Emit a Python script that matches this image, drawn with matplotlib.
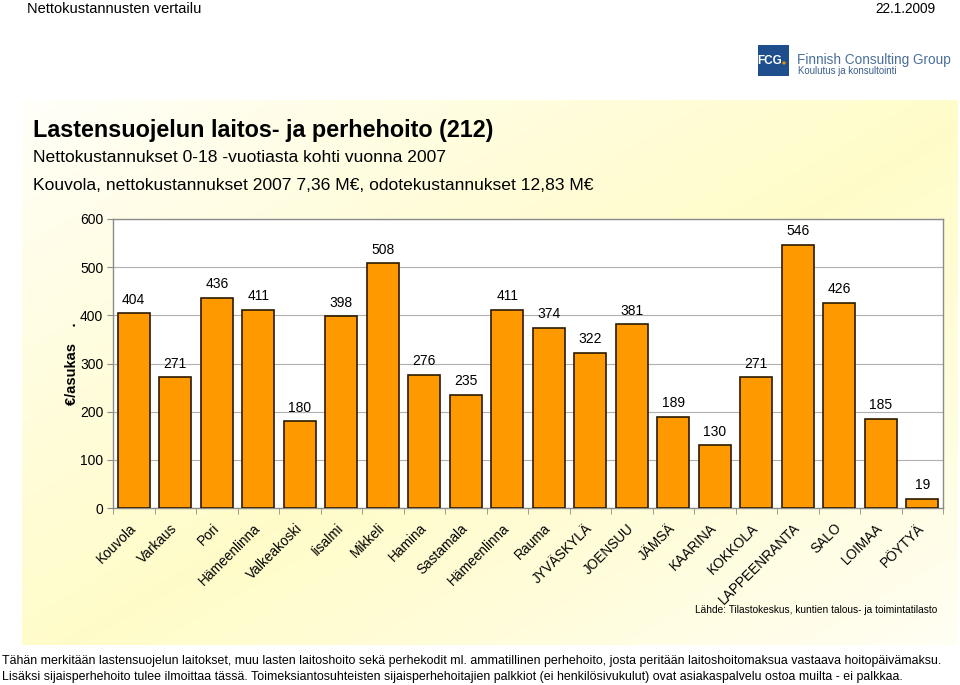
import numpy as np
import matplotlib
matplotlib.use("Agg")
import matplotlib.pyplot as plt
import matplotlib.transforms as mtransforms
from matplotlib.patches import Rectangle, Circle

plt.rcParams['font.family'] = ['Liberation Sans', 'DejaVu Sans']

categories = ["Kouvola", "Varkaus", "Pori", "Hämeenlinna", "Valkeakoski", "Iisalmi",
              "Mikkeli", "Hamina", "Sastamala", "Hämeenlinna", "Rauma", "JYVÄSKYLÄ",
              "JOENSUU", "JÄMSÄ", "KAARINA", "KOKKOLA", "LAPPEENRANTA", "SALO",
              "LOIMAA", "PÖYTYÄ"]
values = [404, 271, 436, 411, 180, 398, 508, 276, 235, 411, 374, 322, 381,
          189, 130, 271, 546, 426, 185, 19]
yticks = [0, 100, 200, 300, 400, 500, 600]

W, H = 960, 685
fig = plt.figure(figsize=(W / 100, H / 100), dpi=100)
fig.patch.set_facecolor("white")

def fx(px):
    return px / W

def fy(py):
    return 1 - py / H

# background gradient panel
bg = fig.add_axes([fx(22), fy(645), fx(958) - fx(22), fy(100) - fy(645)])
nx, ny = 200, 120
xx, yy = np.meshgrid(np.linspace(0, 1, nx), np.linspace(0, 1, ny))
s = xx + yy
t = np.clip(1 - np.abs(s - 1.05) * 0.9, 0, 1)
t = t ** 0.8
img = np.zeros((ny, nx, 3))
img[..., 0] = 1.0
img[..., 1] = 1.0 - 0.012 * t
img[..., 2] = 1.0 - 0.21 * t
bg.imshow(img, aspect="auto", extent=[0, 1, 1, 0], interpolation="bilinear")
bg.axis("off")

# header
fig.text(fx(27), fy(9), "Nettokustannusten vertailu", fontsize=10.5, va="center", ha="left")
fig.text(fx(935), fy(9), "22.1.2009", fontsize=9.8, va="center", ha="right")

# logo
lg = fig.add_axes([0, 0, 1, 1], facecolor="none")
lg.set_xlim(0, W)
lg.set_ylim(H, 0)
lg.axis("off")
lg.add_patch(Rectangle((758, 45), 31, 31, facecolor="#1F4E8C", edgecolor="none"))
lg.text(770, 61, "FCG", color="white", fontsize=8.5, ha="center", va="center", fontweight="bold")
lg.add_patch(Circle((784, 63), 1.6, facecolor="#F39200", edgecolor="none"))
lg.text(797, 60, "Finnish Consulting Group", color="#4A6F9A", fontsize=9.8, ha="left", va="center")
lg.text(798, 71, "Koulutus ja konsultointi", color="#3A5F8A", fontsize=6.9, ha="left", va="center")

# titles
fig.text(fx(33), fy(130), "Lastensuojelun laitos- ja perhehoito (212)", fontsize=16.8,
         fontweight="bold", va="center", ha="left")
fig.text(fx(33), fy(158), "Nettokustannukset 0-18 -vuotiasta kohti vuonna 2007", fontsize=12.6,
         va="center", ha="left")
fig.text(fx(33), fy(186), "Kouvola, nettokustannukset 2007 7,36 M€, odotekustannukset 12,83 M€",
         fontsize=12.6, va="center", ha="left")

# chart
ax = fig.add_axes([fx(113), fy(508), fx(943) - fx(113), fy(219) - fy(508)])
ax.set_facecolor("white")
x = np.arange(len(categories))
ax.bar(x, values, width=0.78, color="#FF9900", edgecolor="#2b1a00", linewidth=1.2, zorder=3)
for xi, v in zip(x, values):
    ax.text(xi, v + 14, str(v), ha="center", va="bottom", fontsize=10, zorder=4)
ax.set_xlim(-0.5, len(categories) - 0.5)
ax.set_ylim(0, 600)
ax.set_yticks(yticks)
ax.set_yticklabels([str(v) for v in yticks], fontsize=10)
ax.yaxis.grid(True, color="#b0b0b0", linewidth=0.8, zorder=0)
ax.set_axisbelow(True)
for sp in ax.spines.values():
    sp.set_color("#8c8c8c")
    sp.set_linewidth(1.0)
ax.set_xticks(np.arange(len(categories) + 1) - 0.5, minor=True)
ax.set_xticks(x)
ax.set_xticklabels([])
ax.tick_params(axis="x", which="major", length=0)
ax.tick_params(axis="x", which="minor", length=4, color="#8c8c8c")
ax.tick_params(axis="y", length=4, color="#8c8c8c", pad=3)

# category labels (rotated, slightly left of each bar centre)
shift = mtransforms.ScaledTranslation(-5 / 100, -13 / 100, fig.dpi_scale_trans)
lab_tr = ax.get_xaxis_transform() + shift
for xi, name in zip(x, categories):
    ax.text(xi, 0, name, transform=lab_tr, rotation=45, rotation_mode="anchor",
            ha="right", va="top", fontsize=9.8, clip_on=False)

ax.set_ylabel("€/asukas    .", fontsize=10.5, fontweight="bold")
ax.yaxis.set_label_coords(-0.041, 0.5)

fig.text(fx(937), fy(610), "Lähde: Tilastokeskus, kuntien talous- ja toimintatilasto", fontsize=7.3,
         ha="right", va="center")

# footnote
fig.text(fx(2), fy(661),
         "Tähän merkitään lastensuojelun laitokset, muu lasten laitoshoito sekä perhekodit ml. ammatillinen perhehoito, josta peritään laitoshoitomaksua vastaava hoitopäivämaksu.",
         fontsize=8.9, ha="left", va="center")
fig.text(fx(2), fy(677),
         "Lisäksi sijaisperhehoito tulee ilmoittaa tässä. Toimeksiantosuhteisten sijaisperhehoitajien palkkiot (ei henkilösivukulut) ovat asiakaspalvelu ostoa muilta - ei palkkaa.",
         fontsize=8.9, ha="left", va="center")

fig.savefig("out.png", dpi=100, facecolor="white")
